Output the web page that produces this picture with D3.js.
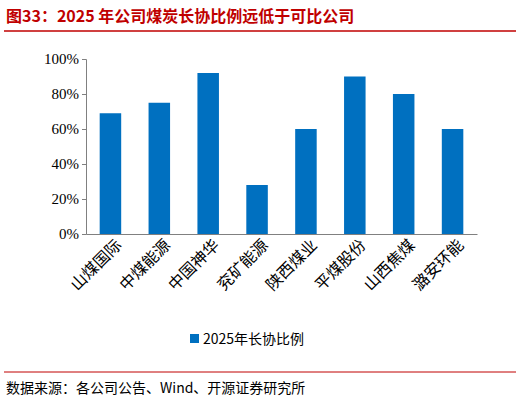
<!DOCTYPE html>
<html><head><meta charset="utf-8">
<script src="https://cdn.jsdelivr.net/npm/d3@7"></script>
<style>body{margin:0;background:#fff}</style></head>
<body><svg id="c" width="522" height="405"></svg>
<script>
const categories=["山煤国际","中煤能源","中国神华","兖矿能源","陕西煤业","平煤股份","山西焦煤","潞安环能"];
const values=[69,75,92,28,60,90,80,60];
const yTicks=[0,20,40,60,80,100];
const seriesName="2025年长协比例";
const svg=d3.select("#c");
const cjk="'Noto Sans CJK SC',sans-serif";
svg.append("text").attr("x",6).attr("y",22).attr("fill","#c00000").attr("font-family",cjk).attr("font-weight","bold").attr("font-size",16).text("图33：2025 年公司煤炭长协比例远低于可比公司");
svg.append("line").attr("x1",4).attr("x2",516).attr("y1",31).attr("y2",31).attr("stroke","#c00000").attr("stroke-width",1.5);
const x=d3.scaleBand().domain(categories).range([86,477]).paddingInner(0.56).paddingOuter(0.28);
const y=d3.scaleLinear().domain([0,100]).range([234,59]);
svg.selectAll("rect.b").data(values).join("rect").attr("x",(d,i)=>x(categories[i])).attr("y",d=>y(d)).attr("width",x.bandwidth()).attr("height",d=>y(0)-y(d)).attr("fill","#0070c0");
const ya=svg.append("g").attr("transform","translate(86,0)").call(d3.axisLeft(y).tickValues(yTicks).tickFormat(d=>d+"%").tickSizeOuter(0).tickSize(4));
ya.selectAll("text").attr("font-family","'Liberation Serif',serif").attr("font-size",15).attr("fill","#000");
ya.selectAll("line,path").attr("stroke","#808080");
const xa=svg.append("g").attr("transform","translate(0,234)").call(d3.axisBottom(x).tickSize(0).tickSizeOuter(0));
xa.select("path").attr("stroke","#808080");
xa.selectAll("text").attr("font-family",cjk).attr("font-size",16).attr("fill","#000").attr("text-anchor","end").attr("dy",0).attr("transform","translate(10,10) rotate(-45)");
svg.append("rect").attr("x",190).attr("y",334).attr("width",9).attr("height",9).attr("fill","#0070c0");
svg.append("text").attr("x",203).attr("y",344).attr("font-family",cjk).attr("font-size",14).text(seriesName);
svg.append("line").attr("x1",4).attr("x2",516).attr("y1",372).attr("y2",372).attr("stroke","#c00000").attr("stroke-width",1);
svg.append("text").attr("x",6).attr("y",393).attr("font-family",cjk).attr("font-size",14).text("数据来源：各公司公告、Wind、开源证券研究所");
</script></body></html>
